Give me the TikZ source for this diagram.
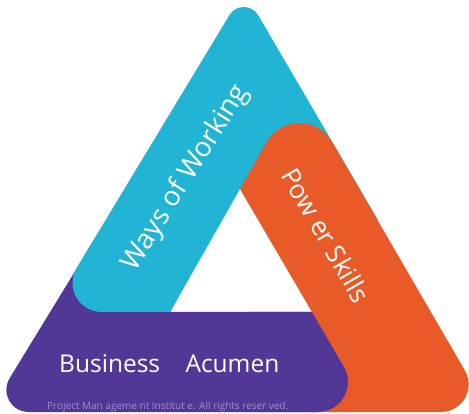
\documentclass[tikz,border=0pt]{standalone}
\usepackage{fontspec}
\newfontfamily\osans{Open Sans}
\usetikzlibrary{calc}
\definecolor{cyanc}{RGB}{33,180,212}
\definecolor{orangec}{RGB}{232,91,41}
\definecolor{purplec}{RGB}{82,56,150}
\definecolor{lavc}{RGB}{156,142,204}
\begin{document}
\begin{tikzpicture}[x=1pt,y=-1pt,
  bigtext/.style={text=white,inner sep=0pt,font=\osans\fontsize{26}{30}\selectfont},
  smalltext/.style={text=lavc,inner sep=0pt,font=\osans\fontsize{10}{12}\selectfont}]
\useasboundingbox (0,0) rectangle (469,414);
\fill[white] (0,0) rectangle (469,414);
% key points
\coordinate (A) at (244,-9);
\coordinate (B) at (-11,412);
\coordinate (C) at (489,412);
\coordinate (T) at (240,189);
\coordinate (IL) at (170,312);
\coordinate (IR) at (312,312);
\coordinate (Ec) at (50,312);
\coordinate (Eo) at (299,85);
\coordinate (Ep) at (370,412);
\coordinate (P) at (378,220);
\coordinate (Ob) at (312,412);
\coordinate (Qin) at (200,258);
\coordinate (Qout) at (77,268);
\def\cyanpath{($(A)!28pt!(Ec)$)
 -- ($(Ec)!52pt!(A)$) .. controls ($(Ec)!29pt!(A)$) and ($(Ec)!29pt!(IL)$) .. ($(Ec)!52pt!(IL)$)
 -- (IL) -- (T) -- (P)
 -- ($(A)!28pt!(P)$) .. controls ($(A)!15.5pt!(P)$) and ($(A)!15.5pt!(Ec)$) .. ($(A)!28pt!(Ec)$) -- cycle}
\def\purplepath{($(B)!40pt!(Qout)$)
 .. controls ($(B)!22pt!(Qout)$) and ($(B)!22pt!(Ep)$) .. ($(B)!40pt!(Ep)$)
 -- ($(Ep)!52pt!(B)$) .. controls ($(Ep)!29pt!(B)$) and ($(Ep)!29pt!(IR)$) .. ($(Ep)!52pt!(IR)$)
 -- (IR) -- (IL) -- (Qin) -- (Qout) -- cycle}
\def\orangepath{($(Eo)!66pt!(T)$)
 .. controls ($(Eo)!36.5pt!(T)$) and ($(Eo)!36.5pt!(C)$) .. ($(Eo)!66pt!(C)$)
 -- ($(C)!48pt!(Eo)$) .. controls ($(C)!26.7pt!(Eo)$) and ($(C)!26.7pt!(Ob)$) .. ($(C)!48pt!(Ob)$)
 -- (Ob) -- (IR) -- (T) -- cycle}
\fill[purplec] \purplepath;
\fill[cyanc] \cyanpath;
\fill[orangec] \orangepath;
\begin{scope}
\clip (250,300) rectangle (430,420);
\fill[purplec] \purplepath;
\end{scope}
% texts
\node[bigtext,rotate=58,font=\osans\fontsize{27.5}{30}\selectfont] (ways) at (186,178) {Ways of Working};
\node[bigtext,rotate=-60] (power) at (326,235) {Pow er Skills};
\node[bigtext,anchor=base west,font=\osans\fontsize{24.5}{28}\selectfont] (business) at (59,373) {Business\hspace{19pt} Acumen};
\node[smalltext,anchor=base west] (copy) at (47,409) {Project Man ageme nt Institut e. All rights reser ved.};
\end{tikzpicture}
\end{document}
